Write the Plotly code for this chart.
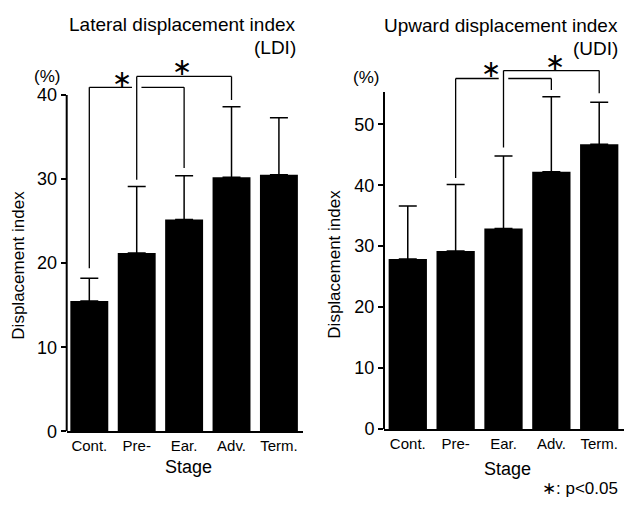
import plotly.graph_objects as go

# ---------------- data ----------------
stages = ["Cont.", "Pre-", "Ear.", "Adv.", "Term."]

ldi_mean = [15.5, 21.2, 25.2, 30.2, 30.5]
ldi_upper = [18.2, 29.1, 30.4, 38.6, 37.3]   # mean + SD (top of error bar)

udi_mean = [27.9, 29.2, 32.9, 42.2, 46.7]
udi_upper = [36.6, 40.1, 44.8, 54.5, 53.6]

# significance brackets: (left stage index, right stage index)
ldi_sig = [(0, 2), (1, 3)]
ldi_bracket_top = [40.9, 42.2]
ldi_leg_bottom = [(19.4, 31.3), (29.9, 39.4)]
ldi_star = [(0.70, 41.9), (1.96, 43.3)]

udi_sig = [(1, 3), (2, 4)]
udi_bracket_top = [57.5, 58.8]
udi_leg_bottom = [(41.2, 55.6), (46.2, 55.1)]
udi_star = [(1.73, 59.0), (3.08, 60.2)]

ldi_ticks = [0, 10, 20, 30, 40]
udi_ticks = [0, 10, 20, 30, 40, 50]

# ---------------- figure ----------------
W, H = 624, 507
FONT = "Liberation Sans, Arial, sans-serif"
xs = list(range(len(stages)))

fig = go.Figure()


def add_panel(mean, upper, xa, ya):
    fig.add_trace(go.Bar(
        x=xs, y=mean, xaxis=xa, yaxis=ya, width=0.8,
        marker=dict(color="black", line=dict(width=0)),
        error_y=dict(type="data", symmetric=False,
                     array=[u - m for u, m in zip(upper, mean)],
                     arrayminus=[0] * len(mean),
                     color="black", thickness=1.5, width=9),
        hoverinfo="skip"))


add_panel(ldi_mean, ldi_upper, "x", "y")
add_panel(udi_mean, udi_upper, "x2", "y2")

shapes = []
annotations = []


def brackets(sig, tops, legs, xref, yref):
    for k, ((a, b), top, (lb, rb)) in enumerate(zip(sig, tops, legs)):
        line = dict(color="black", width=1.3)
        shapes.append(dict(type="line", xref=xref, yref=yref, x0=a, x1=b, y0=top, y1=top, line=line))
        shapes.append(dict(type="line", xref=xref, yref=yref, x0=a, x1=a, y0=lb, y1=top, line=line))
        shapes.append(dict(type="line", xref=xref, yref=yref, x0=b, x1=b, y0=rb, y1=top, line=line))
        # small gap where the next bracket's leg crosses this bracket
        if k + 1 < len(sig):
            c = sig[k + 1][0]
            shapes.append(dict(type="line", xref=xref, yref=yref, x0=c - 0.1, x1=c + 0.1,
                               y0=top, y1=top, line=dict(color="white", width=4)))


brackets(ldi_sig, ldi_bracket_top, ldi_leg_bottom, "x", "y")
brackets(udi_sig, udi_bracket_top, udi_leg_bottom, "x2", "y2")

# y-axis lines (only up to the top of the value scale)
shapes.append(dict(type="line", xref="x domain", yref="y", x0=0, x1=0, y0=0, y1=40,
                   line=dict(color="black", width=2)))
shapes.append(dict(type="line", xref="x2 domain", yref="y2", x0=0, x1=0, y0=0, y1=55.3,
                   line=dict(color="black", width=2)))

for (sx, sy) in ldi_star:
    annotations.append(dict(x=sx, y=sy, xref="x", yref="y", text="∗", showarrow=False,
                            font=dict(family="DejaVu Sans", size=24, color="black"),
                            xanchor="center", yanchor="middle"))
for (sx, sy) in udi_star:
    annotations.append(dict(x=sx, y=sy, xref="x2", yref="y2", text="∗", showarrow=False,
                            font=dict(family="DejaVu Sans", size=24, color="black"),
                            xanchor="center", yanchor="middle"))


def txt(x, y, text, size=17, xanchor="center", angle=0):
    annotations.append(dict(x=x / W, y=1 - y / H, xref="paper", yref="paper", text=text,
                            showarrow=False, textangle=angle, xanchor=xanchor, yanchor="middle",
                            font=dict(family=FONT, size=size, color="black")))


txt(298, 25, "Lateral displacement index", 19, "right")
txt(298, 48, "(LDI)", 19, "right")
txt(620, 26, "Upward displacement index", 19, "right")
txt(620, 49, "(UDI)", 19, "right")
txt(47, 78, "(%)", 17)
txt(366, 79, "(%)", 17)
txt(19, 271, "Displacement index", 17, angle=-90)
txt(335, 270, "Displacement index", 17, angle=-90)
txt(188, 476, "Stage", 18)
txt(507, 478, "Stage", 18)
txt(620, 498, "∗: p<0.05", 17, "right")

xaxis_common = dict(tickvals=xs, ticktext=stages, showline=True, linecolor="black", linewidth=2,
                    ticks="", showgrid=False, zeroline=False,
                    tickfont=dict(family=FONT, size=15, color="black"), fixedrange=True)
yaxis_common = dict(ticks="outside", ticklen=5, tickwidth=1.5, tickcolor="black",
                    showline=False, showgrid=False, zeroline=False,
                    tickfont=dict(family=FONT, size=18, color="black"), fixedrange=True)

fig.update_layout(
    width=W, height=H, margin=dict(l=0, r=0, t=0, b=0),
    paper_bgcolor="white", plot_bgcolor="white", showlegend=False,
    xaxis=dict(domain=[66.7 / W, 303 / W], range=[-0.477, 4.508], anchor="y", **xaxis_common),
    yaxis=dict(domain=[67 / H, 0.8767], range=[0, 44], tickvals=ldi_ticks, anchor="x", **yaxis_common),
    xaxis2=dict(domain=[384 / W, 1.0], range=[-0.497, 4.518], anchor="y2", **xaxis_common),
    yaxis2=dict(domain=[(H - 437.7) / H, 0.885], range=[0, 61], tickvals=udi_ticks, anchor="x2", **yaxis_common),
    shapes=shapes, annotations=annotations,
)

fig.write_html("out.html")
